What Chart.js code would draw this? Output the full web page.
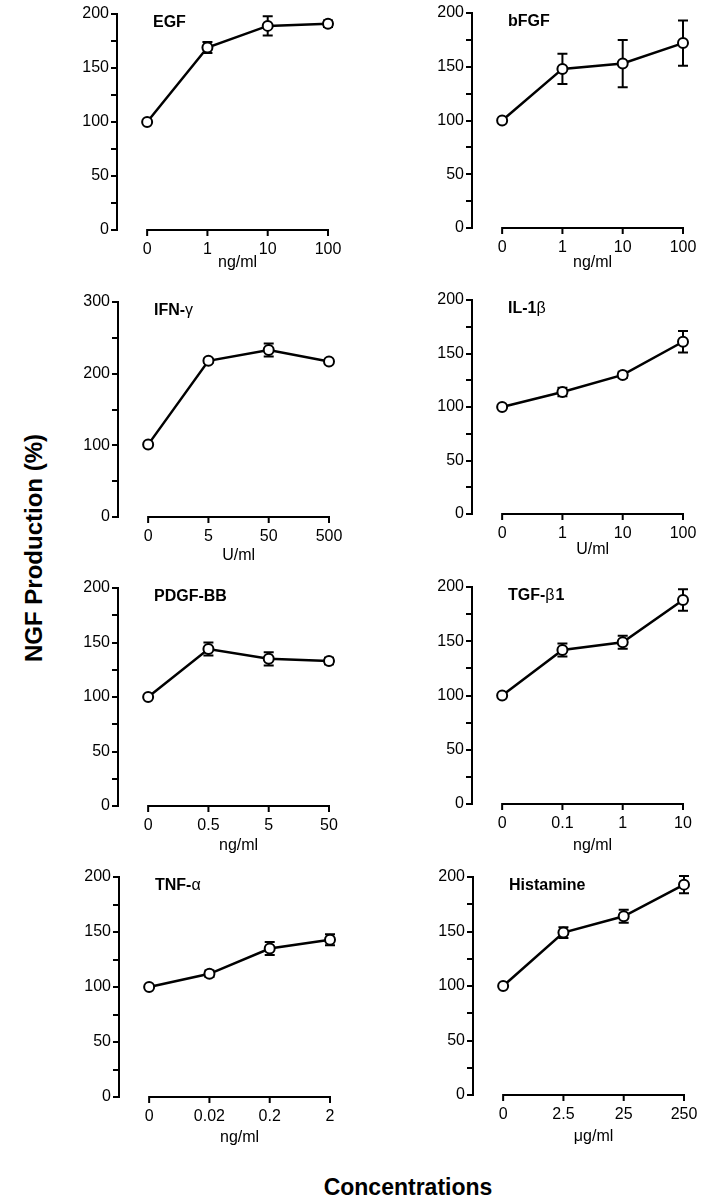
<!DOCTYPE html>
<html>
<head>
<meta charset="utf-8">
<script src="https://cdn.jsdelivr.net/npm/chart.js@4.4.1/dist/chart.umd.min.js"></script>
<style>
  body { margin: 0; background: #fff; width: 707px; height: 1199px; position: relative; overflow: hidden;
         font-family: "Liberation Sans", Arial, sans-serif; color: #000; }
  canvas { position: absolute; }
  .ytitle { position: absolute; left: 34px; top: 548px; transform: translate(-50%, -50%) rotate(-90deg);
            font-weight: bold; font-size: 24px; white-space: nowrap; }
  .xtitle { position: absolute; left: 408px; top: 1187px; transform: translate(-50%, -50%);
            font-weight: bold; font-size: 23px; white-space: nowrap; }
</style>
</head>
<body>
<div class="ytitle">NGF Production (%)</div>
<div class="xtitle">Concentrations</div>
<script>
// valeurs (moyenne et barre d'erreur)
const egfDoses = ['0', '1', '10', '100'];
const egfValues = [100, 169, 189, 191];
const egfErrors = [0, 5, 9, 3];

const bfgfDoses = ['0', '1', '10', '100'];
const bfgfValues = [100, 148, 153, 172];
const bfgfErrors = [0, 14, 22, 21];

const ifnDoses = ['0', '5', '50', '500'];
const ifnValues = [101, 218, 233, 217];
const ifnErrors = [0, 3, 9, 3];

const il1Doses = ['0', '1', '10', '100'];
const il1Values = [100, 114, 130, 161];
const il1Errors = [0, 4, 3, 10];

const pdgfDoses = ['0', '0.5', '5', '50'];
const pdgfValues = [100, 144, 135, 133];
const pdgfErrors = [0, 6, 6, 3];

const tgfDoses = ['0', '0.1', '1', '10'];
const tgfValues = [100, 142, 149, 188];
const tgfErrors = [0, 6, 6, 10];

const tnfDoses = ['0', '0.02', '0.2', '2'];
const tnfValues = [100, 112, 135, 143];
const tnfErrors = [0, 3, 6, 5];

const histDoses = ['0', '2.5', '25', '250'];
const histValues = [100, 149, 164, 193];
const histErrors = [0, 5, 6, 8];

const panels = [
    { name: ['EGF'], unit: 'ng/ml', doses: egfDoses, values: egfValues, errors: egfErrors, yMax: 200, step: 25 },
    { name: ['bFGF'], unit: 'ng/ml', doses: bfgfDoses, values: bfgfValues, errors: bfgfErrors, yMax: 200, step: 25 },
    { name: ['IFN-', 'γ'], unit: 'U/ml', doses: ifnDoses, values: ifnValues, errors: ifnErrors, yMax: 300, step: 50 },
    { name: ['IL-1', 'β'], unit: 'U/ml', doses: il1Doses, values: il1Values, errors: il1Errors, yMax: 200, step: 25 },
    { name: ['PDGF-BB'], unit: 'ng/ml', doses: pdgfDoses, values: pdgfValues, errors: pdgfErrors, yMax: 200, step: 25 },
    { name: ['TGF-', 'β', '1'], unit: 'ng/ml', doses: tgfDoses, values: tgfValues, errors: tgfErrors, yMax: 200, step: 25 },
    { name: ['TNF-', 'α'], unit: 'ng/ml', doses: tnfDoses, values: tnfValues, errors: tnfErrors, yMax: 200, step: 25 },
    { name: ['Histamine'], unit: 'μg/ml', doses: histDoses, values: histValues, errors: histErrors, yMax: 200, step: 25 }
];

// position de chaque panneau sur la page (axe y, haut et bas de l'axe)
const layout = [
    { axisX: 117, top: 14, bottom: 230, unitDy: 33 },
    { axisX: 472, top: 13, bottom: 228, unitDy: 35 },
    { axisX: 118, top: 302, bottom: 517, unitDy: 39 },
    { axisX: 472, top: 300, bottom: 514, unitDy: 36 },
    { axisX: 118, top: 588, bottom: 806, unitDy: 40 },
    { axisX: 472, top: 587, bottom: 804, unitDy: 42 },
    { axisX: 119, top: 877, bottom: 1097, unitDy: 41 },
    { axisX: 473, top: 877, bottom: 1095, unitDy: 42 }
];

const FONT = '"Liberation Sans", Arial, sans-serif';
const Y_WIDTH = 40, PAD_TOP = 12, X_HEIGHT = 55, PAD_RIGHT = 26, PLOT_W = 211;

// axe x décalé, barres d'erreur, titre du panneau et unité
const panelDeco = {
    id: 'panelDeco',
    beforeDatasetsDraw(chart, args, opts) {
        const { ctx, scales: { x, y } } = chart;
        const y0 = y.getPixelForValue(0);
        ctx.save();
        ctx.strokeStyle = '#000';
        ctx.lineWidth = 2;
        ctx.beginPath();
        ctx.moveTo(x.getPixelForValue(0) - 1, y0);
        ctx.lineTo(x.getPixelForValue(3) + 1, y0);
        for (let i = 0; i < 4; i++) {
            const px = x.getPixelForValue(i);
            ctx.moveTo(px, y0);
            ctx.lineTo(px, y0 + 6);
        }
        ctx.stroke();

        opts.values.forEach((v, i) => {
            const e = opts.errors[i];
            if (!e) return;
            const px = x.getPixelForValue(i);
            const hi = y.getPixelForValue(v + e);
            const lo = y.getPixelForValue(v - e);
            ctx.beginPath();
            ctx.moveTo(px, hi); ctx.lineTo(px, lo);
            ctx.moveTo(px - 5, hi); ctx.lineTo(px + 5, hi);
            ctx.moveTo(px - 5, lo); ctx.lineTo(px + 5, lo);
            ctx.stroke();
        });
        ctx.restore();
    },
    afterDraw(chart, args, opts) {
        const { ctx, chartArea, scales: { x, y } } = chart;
        ctx.save();
        ctx.fillStyle = '#000';
        ctx.textBaseline = 'middle';
        // titre : parties grasses et lettres grecques en normal
        let tx = chartArea.left + 36;
        const ty = chartArea.top + 9;
        opts.name.forEach(part => {
            const greek = /[αβγ]/.test(part);
            ctx.font = (greek ? '' : 'bold ') + '16px ' + FONT;
            ctx.textAlign = 'left';
            ctx.fillText(part, tx, ty);
            tx += ctx.measureText(part).width + (greek ? 1 : 0);
        });
        // unité centrée sous l'axe x
        ctx.font = '16px ' + FONT;
        ctx.textAlign = 'center';
        const cx = (x.getPixelForValue(0) + x.getPixelForValue(3)) / 2;
        ctx.fillText(opts.unit, cx, y.getPixelForValue(0) + opts.unitDy);
        ctx.restore();
    }
};

panels.forEach((p, idx) => {
    const L = layout[idx];
    const canvas = document.createElement('canvas');
    const w = Y_WIDTH + PLOT_W + PAD_RIGHT;
    const h = PAD_TOP + (L.bottom - L.top) + X_HEIGHT;
    canvas.width = w;
    canvas.height = h;
    canvas.style.left = (L.axisX - Y_WIDTH) + 'px';
    canvas.style.top = (L.top - PAD_TOP) + 'px';
    document.body.appendChild(canvas);

    new Chart(canvas.getContext('2d'), {
        type: 'line',
        data: {
            datasets: [{
                data: p.values.map((v, i) => ({ x: i, y: v })),
                borderColor: '#000',
                borderWidth: 2.5,
                tension: 0,
                pointRadius: 5,
                pointBorderWidth: 2,
                pointBackgroundColor: '#fff',
                pointBorderColor: '#000',
                clip: false
            }]
        },
        options: {
            responsive: false,
            animation: false,
            devicePixelRatio: 1,
            layout: { padding: { top: PAD_TOP, right: PAD_RIGHT, left: 0, bottom: 0 } },
            plugins: {
                legend: { display: false },
                tooltip: { enabled: false },
                panelDeco: { values: p.values, errors: p.errors, name: p.name, unit: p.unit, unitDy: L.unitDy }
            },
            scales: {
                x: {
                    type: 'linear',
                    min: -0.5,
                    max: 3,
                    afterBuildTicks: s => { s.ticks = [0, 1, 2, 3].map(v => ({ value: v })); },
                    afterFit: s => { s.height = X_HEIGHT; },
                    grid: { display: false, drawTicks: false },
                    border: { display: false },
                    ticks: {
                        autoSkip: false,
                        maxRotation: 0,
                        padding: 10,
                        color: '#000',
                        font: { family: FONT, size: 16 },
                        callback: v => p.doses[v]
                    }
                },
                y: {
                    min: 0,
                    max: p.yMax,
                    afterFit: s => { s.width = Y_WIDTH; },
                    grid: { drawOnChartArea: false, drawTicks: true, tickLength: 6, color: '#000', lineWidth: 2 },
                    border: { display: true, color: '#000', width: 2 },
                    ticks: {
                        stepSize: p.step,
                        autoSkip: false,
                        padding: 2,
                        color: '#000',
                        font: { family: FONT, size: 16 },
                        callback: v => (v % (p.step * 2) === 0 ? v : '')
                    }
                }
            }
        },
        plugins: [panelDeco]
    });
});
</script>
</body>
</html>
